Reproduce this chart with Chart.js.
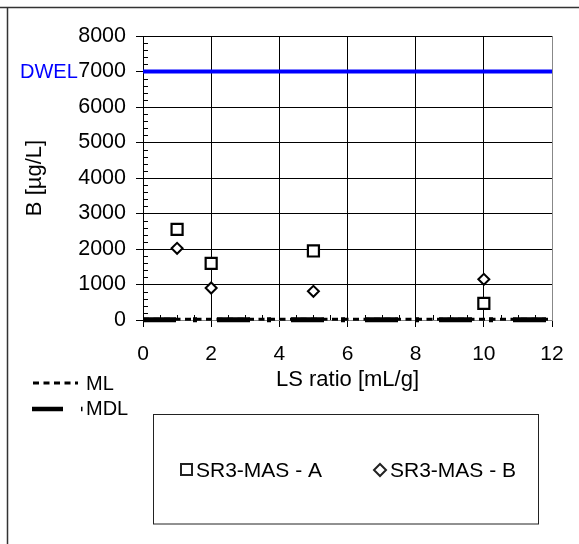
<!DOCTYPE html>
<html>
<head>
<meta charset="utf-8">
<script src="https://cdn.jsdelivr.net/npm/chart.js@4.4.1/dist/chart.umd.min.js"></script>
<style>
  html, body { margin: 0; padding: 0; background: #fff; }
  canvas { display: block; }
</style>
</head>
<body>
<canvas id="chart" width="579" height="544"></canvas>
<script>
// LS ratio of each leaching step
const lsRatio = [1, 2, 5, 10];
// Boron concentrations [ug/L]
const seriesA = [2555, 1597, 1944, 470];
const seriesB = [2020, 901, 808, 1146];
const seriesLabels = ['SR3-MAS - A', 'SR3-MAS - B'];
// Axis ranges and ticks
const xRange = [0, 12];
const yRange = [0, 8000];
const xStep = 2;
const yStep = 1000;
// Reference levels
const dwel = 7000;
const ml = 20;
const mdl = 10;

const FONT = "'Liberation Sans', Arial, sans-serif";

function toPoints(xs, ys) {
    return xs.map((x, i) => ({ x: x, y: ys[i] }));
}

function flatLine(value) {
    return [{ x: xRange[0], y: value }, { x: xRange[1], y: value }];
}

// Minor ticks, frame, DWEL label and the two legends
const extrasPlugin = {
    id: 'extras',
    beforeDatasetsDraw(chart) {
        const ctx = chart.ctx;
        const xs = chart.scales.x;
        const ys = chart.scales.y;
        const area = chart.chartArea;
        ctx.save();
        ctx.strokeStyle = '#000';
        ctx.lineWidth = 1;
        ctx.beginPath();
        for (let v = yRange[0]; v <= yRange[1]; v += 200) {
            if (v % yStep === 0) continue;
            const py = Math.round(ys.getPixelForValue(v)) + 0.5;
            ctx.moveTo(area.left, py);
            ctx.lineTo(area.left + 5, py);
        }
        for (let v = xRange[0]; v <= xRange[1]; v += 0.5) {
            if (v % xStep === 0) continue;
            const px = Math.round(xs.getPixelForValue(v)) + 0.5;
            ctx.moveTo(px, area.bottom);
            ctx.lineTo(px, area.bottom - 5);
        }
        ctx.stroke();
        ctx.restore();
    },
    afterDraw(chart) {
        const ctx = chart.ctx;
        const ys = chart.scales.y;
        ctx.save();

        // outer frame
        ctx.strokeStyle = '#333';
        ctx.lineWidth = 1.5;
        ctx.beginPath();
        ctx.moveTo(0, 7.5);
        ctx.lineTo(579, 7.5);
        ctx.moveTo(7.5, 7.5);
        ctx.lineTo(7.5, 544);
        ctx.stroke();

        // DWEL label
        ctx.font = '20px ' + FONT;
        ctx.textBaseline = 'middle';
        ctx.textAlign = 'left';
        ctx.fillStyle = '#0000ff';
        ctx.fillText('DWEL', 20, ys.getPixelForValue(dwel) + 1);

        // ML / MDL legend
        ctx.fillStyle = '#000';
        ctx.strokeStyle = '#000';
        ctx.lineWidth = 3;
        ctx.setLineDash([6, 4.5]);
        ctx.beginPath();
        ctx.moveTo(33, 383);
        ctx.lineTo(78, 383);
        ctx.stroke();
        ctx.lineWidth = 4.5;
        ctx.setLineDash([31, 18, 1.5, 18]);
        ctx.beginPath();
        ctx.moveTo(32, 409);
        ctx.lineTo(84, 409);
        ctx.stroke();
        ctx.setLineDash([]);
        ctx.fillText('ML', 86, 384);
        ctx.fillText('MDL', 86, 409);

        // series legend box
        ctx.lineWidth = 1;
        ctx.strokeStyle = '#222';
        ctx.strokeRect(153.5, 414.5, 385, 109.5);
        ctx.lineWidth = 2;
        ctx.strokeRect(181, 464, 11, 11);
        ctx.beginPath();
        ctx.moveTo(380, 464);
        ctx.lineTo(386, 470);
        ctx.lineTo(380, 476);
        ctx.lineTo(374, 470);
        ctx.closePath();
        ctx.stroke();
        ctx.font = '21px ' + FONT;
        ctx.fillText(seriesLabels[0], 196, 471);
        ctx.fillText(seriesLabels[1], 390, 471);

        ctx.restore();
    }
};

const ctx = document.getElementById('chart').getContext('2d');
new Chart(ctx, {
    type: 'scatter',
    data: {
        datasets: [
            {
                label: seriesLabels[0],
                data: toPoints(lsRatio, seriesA),
                pointStyle: 'rect',
                pointRadius: 7.8,
                pointBorderWidth: 2.2,
                borderColor: '#000',
                backgroundColor: '#fff',
                showLine: false
            },
            {
                label: seriesLabels[1],
                data: toPoints(lsRatio, seriesB),
                pointStyle: 'rectRot',
                pointRadius: 5.5,
                pointBorderWidth: 2,
                borderColor: '#000',
                backgroundColor: '#fff',
                showLine: false
            },
            {
                label: 'DWEL',
                data: flatLine(dwel),
                showLine: true,
                borderColor: '#0000ff',
                borderWidth: 4,
                pointRadius: 0
            },
            {
                label: 'ML',
                data: flatLine(ml),
                showLine: true,
                clip: false,
                borderColor: '#000',
                borderWidth: 3,
                borderDash: [6, 4.5],
                pointRadius: 0
            },
            {
                label: 'MDL',
                data: flatLine(mdl),
                showLine: true,
                clip: false,
                borderColor: '#000',
                borderWidth: 5,
                borderDash: [33, 17, 4, 20],
                pointRadius: 0
            }
        ]
    },
    options: {
        responsive: false,
        animation: false,
        events: [],
        layout: {
            padding: { left: 0, top: 36, right: 27, bottom: 144 }
        },
        plugins: {
            legend: { display: false },
            tooltip: { enabled: false }
        },
        scales: {
            x: {
                type: 'linear',
                min: xRange[0],
                max: xRange[1],
                ticks: {
                    stepSize: xStep,
                    color: '#000',
                    padding: 15,
                    maxRotation: 0,
                    font: { family: FONT, size: 21 }
                },
                grid: {
                    color: (c) => (c.tick && c.tick.value === xRange[1]) ? '#888' : '#000',
                    tickColor: '#000',
                    tickLength: 7,
                    lineWidth: 1
                },
                border: { color: '#888', width: 1 },
                title: {
                    display: true,
                    text: 'LS ratio [mL/g]',
                    color: '#000',
                    font: { family: FONT, size: 22 },
                    padding: { top: 0, bottom: 7 }
                },
                afterFit(scale) { scale.height = 80; }
            },
            y: {
                type: 'linear',
                min: yRange[0],
                max: yRange[1],
                ticks: {
                    stepSize: yStep,
                    color: '#000',
                    padding: 10,
                    font: { family: FONT, size: 21.5 },
                    callback: (v) => String(v)
                },
                grid: {
                    color: (c) => (c.tick && c.tick.value === yRange[0]) ? '#888' : '#000',
                    tickColor: '#000',
                    tickLength: 7,
                    lineWidth: 1
                },
                border: { color: '#000', width: 1 },
                title: {
                    display: true,
                    text: 'B [µg/L]',
                    color: '#000',
                    font: { family: FONT, size: 22 },
                    padding: { top: 22, bottom: 0 }
                },
                afterFit(scale) { scale.width = 143; }
            }
        }
    },
    plugins: [extrasPlugin]
});
</script>
</body>
</html>
